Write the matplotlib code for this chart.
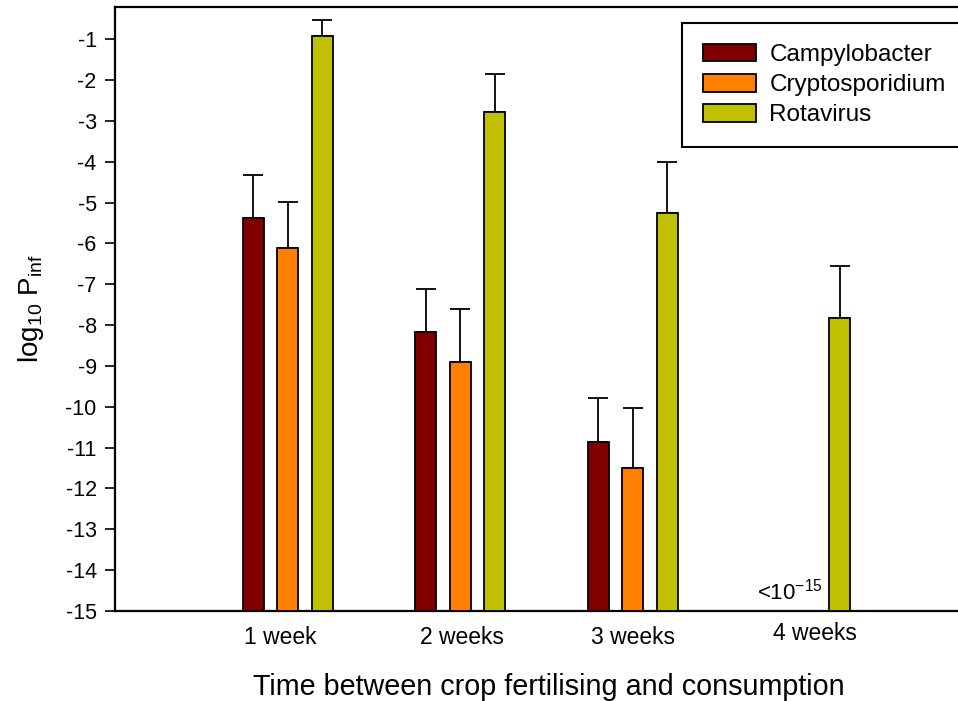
import numpy as np
import matplotlib
matplotlib.use('Agg')
import matplotlib.pyplot as plt
import matplotlib.transforms as mtransforms

plt.rcParams['font.family'] = ['Liberation Sans', 'DejaVu Sans']
plt.rcParams['mathtext.fontset'] = 'custom'
plt.rcParams['mathtext.rm'] = 'Liberation Sans'
plt.rcParams['mathtext.it'] = 'Liberation Sans:italic'
plt.rcParams['mathtext.default'] = 'regular'

# data (log10 of infection probability)
weeks = ['1 week', '2 weeks', '3 weeks', '4 weeks']
pathogens = ['Campylobacter', 'Cryptosporidium', 'Rotavirus']
campy = [-5.37, -8.16, -10.85, np.nan]
crypto = [-6.10, -8.90, -11.51, np.nan]
rota = [-0.91, -2.77, -5.26, -7.82]
campy_err = [1.04, 1.04, 1.07, np.nan]
crypto_err = [1.12, 1.29, 1.49, np.nan]
rota_err = [0.39, 0.93, 1.26, 1.27]
colors = ['#800000', '#FF8000', '#C0C000']
floor = -15

fig = plt.figure(figsize=(9.58, 7.01), dpi=100)
ax = fig.add_axes([0.120, 0.1284, 0.9008, 0.8616])

x = np.arange(1, len(weeks) + 1)
offs = [-0.2, 0.0, 0.2]
w = 0.122
series = [campy, crypto, rota]
errs = [campy_err, crypto_err, rota_err]
for vals, err, off, col, name in zip(series, errs, offs, colors, pathogens):
    vals = np.array(vals, dtype=float)
    err = np.array(err, dtype=float)
    ax.bar(x + off, vals - floor, bottom=floor, width=w, color=col,
           edgecolor='black', linewidth=1.3, label=name, zorder=3)
    ax.errorbar(x + off, vals, yerr=[np.zeros_like(err), err], fmt='none',
                ecolor='black', elinewidth=1.3, capsize=7, capthick=1.3, zorder=2)

ax.text(3.91, -14.73, r'<10$^{-15}$', ha='center', va='baseline', fontsize=16)

ax.set_xlim(0, 5)
ax.set_ylim(-15, -0.21)
ax.set_yticks(np.arange(-15, 0))
ax.set_yticklabels(['-%d' % abs(v) for v in range(-15, 0)])
ax.tick_params(axis='y', direction='out', length=7.2, width=1.2, pad=6, labelsize=15.5)
ax.set_xticks([])

# week labels placed under each group
trans = mtransforms.blended_transform_factory(ax.transData, ax.transAxes)
label_dx = [-0.043, 0.01, 0.0, 0.058]
label_dy = [0.0, 0.0, 0.0, 0.006]
for xi, lab, dx, dy in zip(x, weeks, label_dx, label_dy):
    ax.text(xi + dx, -0.044 + dy, lab, transform=trans, ha='center', va='center',
            fontsize=16.5)

for s in ['left', 'bottom', 'top']:
    ax.spines[s].set_linewidth(1.6)
ax.spines['right'].set_visible(False)

ax.set_ylabel(r'log$_{10}$ P$_{inf}$', fontsize=20)
ax.yaxis.set_label_coords(-0.080, 0.5)
ax.set_xlabel('Time between crop fertilising and consumption', fontsize=20.7, va='top')
ax.xaxis.set_label_coords(0.503, -0.103)

leg = ax.legend(loc='upper left', bbox_to_anchor=(0.657, 0.9735), borderaxespad=0,
                fontsize=17.5, fancybox=False, edgecolor='black', framealpha=1,
                handlelength=2.2, handleheight=0.75, handletextpad=0.55,
                labelspacing=0.32, borderpad=0.85)
leg.get_frame().set_linewidth(1.5)

fig.savefig('out.png', dpi=100)
